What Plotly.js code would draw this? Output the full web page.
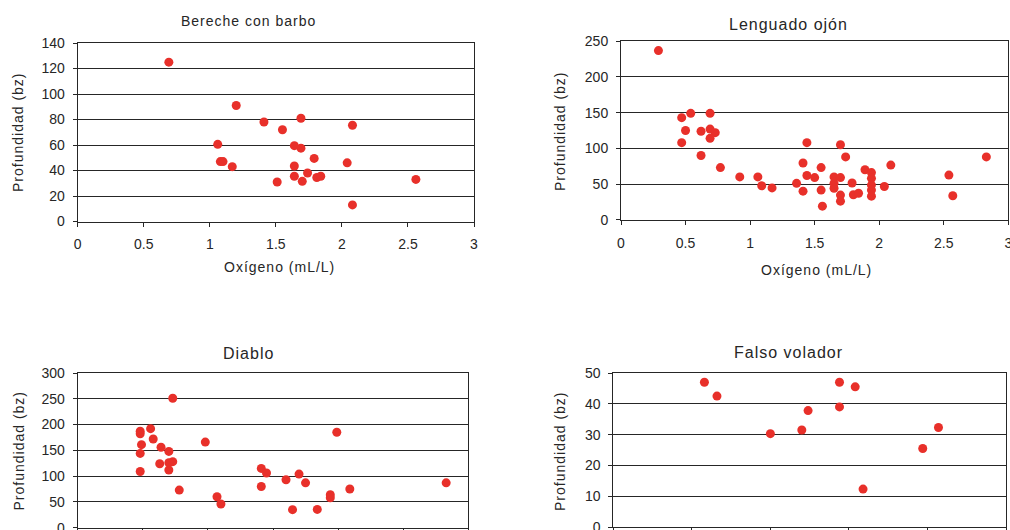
<!DOCTYPE html>
<html>
<head>
<meta charset="utf-8">
<script src="https://cdn.plot.ly/plotly-3.0.1.min.js"></script>
<style>
html,body{margin:0;padding:0;background:#fff;}
#chart{width:1010px;height:530px;}
.annotation-text{letter-spacing:1px;}
</style>
</head>
<body>
<div id="chart"></div>
<script>
// Bereche con barbo
const berecheOx = [0.69, 1.20, 1.41, 1.55, 1.69, 2.08, 1.06, 1.64, 1.69, 1.79, 1.08, 1.10, 2.04, 1.17, 1.64, 1.74, 1.64, 1.81, 1.84, 1.51, 1.70, 2.56, 2.08];
const berecheDepth = [125, 91, 78, 72, 81, 75.5, 60.5, 59.5, 57.5, 49.5, 47, 47, 46, 43, 43.5, 38, 35.5, 34.5, 35.5, 31, 31.5, 33, 13];

// Lenguado ojón
const lenguadoOx = [0.29, 0.47, 0.54, 0.69, 0.50, 0.62, 0.69, 0.73, 0.69, 0.47, 0.62, 0.77, 0.92, 1.06, 1.09, 1.17, 1.36, 1.41, 1.44, 1.41, 1.44, 1.50, 1.55, 1.55, 1.56, 1.65, 1.65, 1.65, 1.70, 1.70, 1.74, 1.70, 1.70, 1.79, 1.80, 1.84, 1.89, 1.94, 1.94, 1.94, 1.94, 1.94, 2.04, 2.09, 2.54, 2.57, 2.83];
const lenguadoDepth = [237, 143, 149, 149, 125, 124, 127, 122, 114, 108, 90, 73, 60, 60, 47.5, 44.5, 51, 79.5, 62, 40, 108, 59, 73, 41.5, 19, 60, 51, 44, 59, 105, 88, 34.5, 26, 51.5, 35, 37, 70, 66, 58, 48.5, 41.5, 33, 46.5, 76.5, 62.5, 33.5, 88];

// Diablo
const diabloOx = [0.48, 0.48, 0.49, 0.48, 0.48, 0.56, 0.58, 0.64, 0.63, 0.70, 0.70, 0.73, 0.70, 0.73, 0.78, 0.98, 1.07, 1.10, 1.41, 1.45, 1.41, 1.60, 1.65, 1.70, 1.75, 1.84, 1.94, 1.94, 1.99, 2.09, 2.83];
const diabloDepth = [187, 182, 161, 144, 109, 192, 172, 156, 124, 148, 112, 128, 126, 251, 73, 166, 60, 46, 115, 106, 80, 93, 35, 104, 87, 35.5, 64, 58, 185, 75, 87];

// Falso volador
const volatorOx = [0.58, 0.66, 1.00, 1.20, 1.24, 1.44, 1.44, 1.54, 1.59, 1.97, 2.07];
const volatorDepth = [47, 42.5, 30.3, 31.5, 37.8, 47, 39, 45.5, 12.3, 25.5, 32.3];

const titles = ['Bereche con barbo', 'Lenguado ojón', 'Diablo', 'Falso volador'];
const xLabel = 'Oxígeno (mL/L)';
const yLabel = 'Profundidad (bz)';

const W = 1010, H = 530;
const px = v => v / W;
const py = v => 1 - v / H;

const red = '#e8302a';
const ink = '#262626';

function trace(x, y, n) {
  return {
    type: 'scatter', mode: 'markers', x: x, y: y,
    xaxis: n === 1 ? 'x' : 'x' + n, yaxis: n === 1 ? 'y' : 'y' + n,
    marker: {color: red, size: 9, line: {width: 0}},
    hoverinfo: 'x+y', showlegend: false
  };
}

const data = [
  trace(berecheOx, berecheDepth, 1),
  trace(lenguadoOx, lenguadoDepth, 2),
  trace(diabloOx, diabloDepth, 3),
  trace(volatorOx, volatorDepth, 4)
];

const tickFont = {family: 'Liberation Sans, Arial, sans-serif', size: 14, color: ink};

function xa(domain, range, anchor, labels) {
  return {
    domain: domain, range: range, dtick: 0.5, tick0: 0, anchor: anchor,
    showgrid: false, zeroline: false, showline: true, mirror: true,
    linecolor: ink, linewidth: 1, ticks: 'outside', ticklen: 4, tickcolor: ink,
    tickfont: tickFont, ticklabelstandoff: 6, ticklabeloverflow: 'allow',
    showticklabels: labels, fixedrange: true, automargin: false
  };
}
function ya(domain, range, dtick, anchor) {
  return {
    domain: domain, range: range, dtick: dtick, tick0: 0, anchor: anchor,
    showgrid: true, gridcolor: ink, gridwidth: 1, zeroline: false,
    showline: true, mirror: true, linecolor: ink, linewidth: 1,
    ticks: 'outside', ticklen: 4, tickcolor: ink, tickfont: tickFont,
    ticklabelstandoff: 5, ticklabeloverflow: 'allow',
    fixedrange: true, automargin: false
  };
}

const annFont = {family: 'Liberation Sans, Arial, sans-serif', color: ink};
function ann(text, x, y, size, angle) {
  return {
    text: text, xref: 'paper', yref: 'paper', x: px(x), y: py(y),
    xanchor: 'center', yanchor: 'middle', showarrow: false,
    textangle: angle || 0, font: Object.assign({size: size}, annFont)
  };
}

const layout = {
  width: W, height: H,
  margin: {l: 0, r: 0, t: 0, b: 0},
  paper_bgcolor: '#fff', plot_bgcolor: '#fff',
  showlegend: false,
  xaxis:  xa([px(77.7), px(474)], [0, 3], 'y', true),
  yaxis:  ya([py(221.5), py(43)], [0, 140], 20, 'x'),
  xaxis2: xa([px(621), px(1008.3)], [0, 3], 'y2', true),
  yaxis2: ya([py(219.7), py(41.3)], [0, 250], 50, 'x2'),
  xaxis3: xa([px(77.7), px(468.3)], [0, 3], 'y3', false),
  yaxis3: ya([py(527.7), py(373)], [0, 300], 50, 'x3'),
  xaxis4: xa([px(613.3), px(1006)], [0, 2.5], 'y4', false),
  yaxis4: ya([py(527), py(373)], [0, 50], 10, 'x4'),
  annotations: [
    ann(titles[0], 248, 21, 14),
    ann(titles[1], 788, 24.5, 16),
    ann(titles[2], 248, 353, 16),
    ann(titles[3], 788, 352, 16),
    ann(xLabel, 279, 267, 14),
    ann(xLabel, 816, 270, 14),
    ann(yLabel, 17.5, 132.5, 14, -90),
    ann(yLabel, 560, 131, 14, -90),
    ann(yLabel, 18.5, 451, 14, -90),
    ann(yLabel, 560, 451, 14, -90)
  ]
};

Plotly.newPlot('chart', data, layout, {displayModeBar: false, staticPlot: true});
</script>
</body>
</html>
